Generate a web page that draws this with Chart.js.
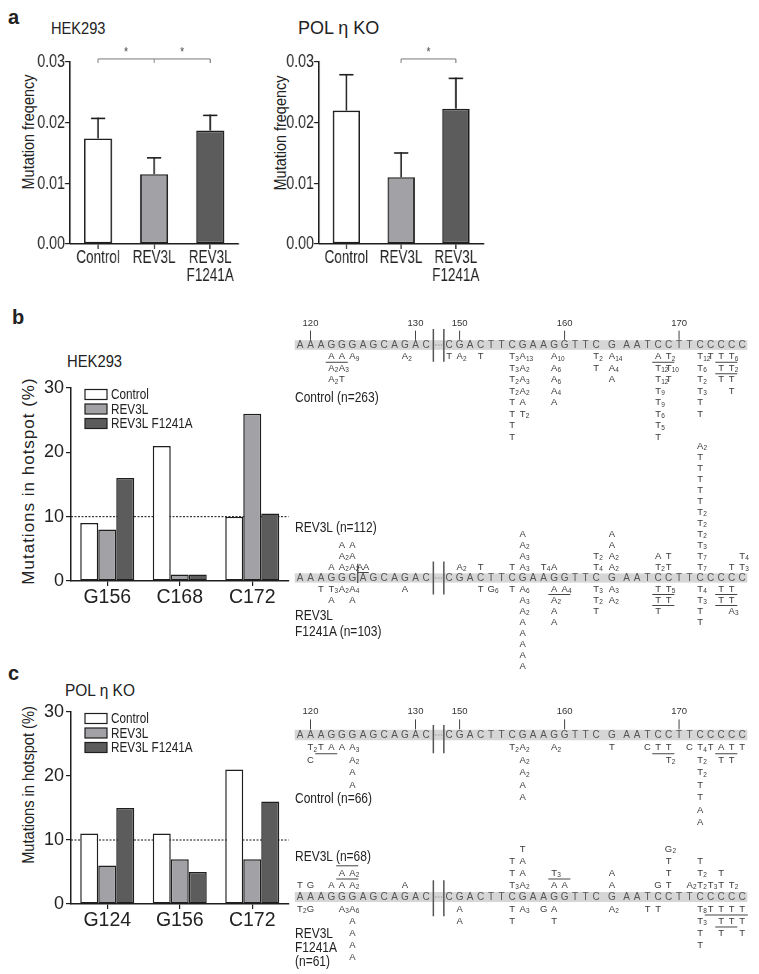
<!DOCTYPE html>
<html>
<head>
<meta charset="UTF-8">
<title>REV3L hotspot mutations</title>
<script src="https://cdn.jsdelivr.net/npm/chart.js"></script>
<style>
  body { margin: 0; background: #fff; }
  #fig { position: relative; width: 759px; height: 974px; overflow: hidden; background: #fff;
         font-family: 'Liberation Sans', Arial, sans-serif; color: #222; }
  #fig canvas { position: absolute; }
  /* panel a is drawn condensed, like the original figure */
  #fig canvas.squeeze { transform: scaleX(0.75); transform-origin: 0 0; }
  .t { position: absolute; white-space: nowrap; transform-origin: 0 50%; }
  .panel { font-weight: bold; font-size: 20px; line-height: 20px; }
  .title { font-size: 17px; line-height: 17px; }
  .ytitle { font-size: 17px; line-height: 17px; }
  .blk { font-size: 15px; line-height: 15px; transform: scaleX(0.8); }
</style>
</head>
<body>
<div id="fig">
  <div class="t panel" style="left:8px;top:7px">a</div>
  <div class="t title" style="left:51px;top:20px;transform:scaleX(0.86)">HEK293</div>
  <div class="t title" style="left:298px;top:20px;font-size:18px">POL η KO</div>
  <div class="t ytitle" style="left:28px;top:132px;transform:translate(-50%,-50%) rotate(-90deg) scaleX(0.85);transform-origin:50% 50%">Mutation freqency</div>
  <div class="t ytitle" style="left:280px;top:133px;transform:translate(-50%,-50%) rotate(-90deg) scaleX(0.85);transform-origin:50% 50%">Mutation freqency</div>
  <canvas id="freqHek" class="squeeze" width="327" height="245" style="left:0;top:40px"></canvas>
  <canvas id="freqPol" class="squeeze" width="327" height="245" style="left:249px;top:40px"></canvas>

  <div class="t panel" style="left:12px;top:307px">b</div>
  <div class="t title" style="left:67px;top:353px;transform:scaleX(0.87)">HEK293</div>
  <div class="t ytitle" style="left:28px;top:481px;letter-spacing:1px;transform:translate(-50%,-50%) rotate(-90deg);transform-origin:50% 50%">Mutations in hotspot (%)</div>
  <canvas id="hotHek" width="292" height="245" style="left:0;top:370px"></canvas>
  <canvas id="seqB1" width="479" height="160" style="left:280px;top:312px"></canvas>
  <canvas id="seqB2" width="479" height="240" style="left:280px;top:436px"></canvas>
  <div class="t blk" style="left:295px;top:389px">Control (n=263)</div>
  <div class="t blk" style="left:295px;top:519px">REV3L (n=112)</div>
  <div class="t blk" style="left:295px;top:607px">REV3L</div>
  <div class="t blk" style="left:295px;top:623px">F1241A (n=103)</div>

  <div class="t panel" style="left:8px;top:663px">c</div>
  <div class="t title" style="left:65px;top:682px;transform:scaleX(0.91)">POL η KO</div>
  <div class="t ytitle" style="left:28px;top:785px;transform:translate(-50%,-50%) rotate(-90deg) scaleX(0.86);transform-origin:50% 50%">Mutations in hotspot (%)</div>
  <canvas id="hotPol" width="292" height="250" style="left:0;top:690px"></canvas>
  <canvas id="seqC1" width="479" height="135" style="left:280px;top:700px"></canvas>
  <canvas id="seqC2" width="479" height="136" style="left:280px;top:838px"></canvas>
  <div class="t blk" style="left:295px;top:790px">Control (n=66)</div>
  <div class="t blk" style="left:295px;top:848px">REV3L (n=68)</div>
  <div class="t blk" style="left:295px;top:925px">REV3L</div>
  <div class="t blk" style="left:295px;top:939px">F1241A</div>
  <div class="t blk" style="left:295px;top:953px">(n=61)</div>
</div>

<script>
// ---- panel a: mutation frequency ----
const groupsA = ['Control', 'REV3L', ['REV3L', 'F1241A']];
const hekFreq = [0.0174, 0.0115, 0.0187];
const hekErr = [0.0033, 0.0027, 0.0025];
const polFreq = [0.0220, 0.0110, 0.0223];
const polErr = [0.0059, 0.0040, 0.0050];
const freqTicks = [0, 0.01, 0.02, 0.03];
// significance brackets: categories joined, star positions
const hekBracket = [0, 1, 2];
const hekStars = [0.5, 1.5];
const polBracket = [1, 2];
const polStars = [1.5];

// ---- panels b, c: mutations in hotspot (%) ----
const seriesNames = ['Control', 'REV3L', 'REV3L F1241A'];
const hotspotsHek = ['G156', 'C168', 'C172'];
const hekControl = [9, 21, 10];
const hekRev3l = [8, 1, 26];
const hekF1241a = [16, 1, 10.5];
const hotspotsPol = ['G124', 'G156', 'C172'];
const polControl = [11, 11, 21];
const polRev3l = [6, 7, 7];
const polF1241a = [15, 5, 16];
const hotspotThreshold = 10;

// ---- sequence maps ----
const seqLeft = 'AAAGGGAGCAGAC';            // 119-131
const seqLeftStart = 119;
const seqRight = 'CGACTTCGAAGGTTCGAATCCTTCCCCC'; // 149-176
const seqRightStart = 149;
const seqTicks = [120, 130, 150, 160, 170];

// [position, [mutations, nearest row first]]
const bControlMuts = [
  [122, ['A', 'A2', 'A2']], [123, ['A', 'A3', 'T']], [124, ['A9']], [129, ['A2']],
  [149, ['T']], [150, ['A2']], [152, ['T']],
  [155, ['T3', 'T3', 'T2', 'T2', 'T', 'T', 'T', 'T']],
  [156, ['A13', 'A2', 'A3', 'A2', 'A', 'T2']],
  [159, ['A10', 'A6', 'A6', 'A4', 'A']],
  [163, ['T2', 'T']], [164, ['A14', 'A4', 'A']],
  [168, ['A', 'T12', 'T12', 'T9', 'T9', 'T6', 'T5', 'T']],
  [169, ['T2', 'T10', 'T']],
  [172, ['T12', 'T6', 'T2', 'T3', 'T', 'T']],
  [173, ['T']], [174, ['T', 'T', 'T']], [175, ['T6', 'T2', 'T', 'T']]
];
const bControlLines = [[122, 123, 1.5], [168, 169, 1.5], [174, 175, 1.5], [174, 175, 2.5]];

const bRev3lMuts = [
  [122, ['A']], [123, ['A2', 'A2', 'A']], [124, ['A2', 'A', 'A']], [125, ['AA']],
  [150, ['A2']], [152, ['T']], [155, ['T']],
  [156, ['A3', 'A3', 'A2', 'A']],
  [158, ['T4']], [159, ['A']],
  [163, ['T4', 'T2']], [164, ['A2', 'A2', 'A', 'A']],
  [168, ['T2', 'A']], [169, ['T', 'T']],
  [172, ['T7', 'T7', 'T3', 'T2', 'T2', 'T2', 'T', 'T', 'T', 'T', 'T', 'A2']],
  [175, ['T']], [176, ['T3', 'T4']]
];
const bRev3lLines = [[125, 125, -0.5]];
const bRev3lBars = [[124.5, -1.3, 0.45]];

const bF1241aMuts = [
  [121, ['T']], [122, ['T3', 'A']], [123, ['A2']], [124, ['A4', 'A']], [129, ['A']],
  [152, ['T']], [153, ['G6']], [155, ['T']],
  [156, ['A6', 'A3', 'A2', 'A', 'A', 'A', 'A', 'A']],
  [159, ['A', 'A2', 'A', 'A']], [160, ['A4']],
  [163, ['T3', 'T2', 'T']], [164, ['A3', 'A2']],
  [168, ['T', 'T', 'T']], [169, ['T5', 'T']],
  [172, ['T4', 'T3', 'T', 'T']],
  [174, ['T', 'T']], [175, ['T', 'T', 'A3']]
];
const bF1241aLines = [[159, 160, 1.5], [168, 169, 1.5], [168, 169, 2.5], [174, 175, 1.5], [174, 175, 2.5]];

const cControlMuts = [
  [120, ['T2', 'C']], [121, ['T']], [122, ['A']], [123, ['A']], [124, ['A3', 'A2', 'A', 'A']],
  [155, ['T2']], [156, ['A2', 'A2', 'A2', 'A', 'A']],
  [159, ['A2']], [164, ['T']],
  [167, ['C']], [168, ['T']], [169, ['T', 'T2']],
  [171, ['C']], [172, ['T4', 'T2', 'T2', 'T', 'T', 'A', 'A']],
  [173, ['T']], [174, ['A', 'T']], [175, ['T', 'T']], [176, ['T']]
];
const cControlLines = [[121, 122, 1.5], [168, 169, 1.5], [174, 175, 1.5]];

const cRev3lMuts = [
  [119, ['T']], [120, ['G']], [122, ['A']], [123, ['A', 'A']], [124, ['A2', 'A2']], [129, ['A']],
  [155, ['T3', 'T', 'T']], [156, ['A2', 'A', 'A', 'T']],
  [159, ['A', 'T3']], [160, ['A']], [164, ['A', 'A']],
  [168, ['G']], [169, ['T', 'T', 'T', 'G2']],
  [171, ['A2']], [172, ['T2', 'T2', 'T']], [173, ['T3']], [174, ['T', 'T']], [175, ['T2']]
];
const cRev3lLines = [[123, 124, -1.5], [123, 124, -2.6], [159, 160, -1.5]];

const cF1241aMuts = [
  [119, ['T2']], [120, ['G']], [123, ['A3']], [124, ['A6', 'A', 'A', 'A', 'A']],
  [150, ['A', 'A']],
  [155, ['T', 'T']], [156, ['A3']], [158, ['G']], [159, ['A', 'T']],
  [164, ['A2']], [167, ['T']], [168, ['T']],
  [172, ['T8', 'T3', 'T', 'T']], [173, ['T']], [174, ['T', 'T', 'T']],
  [175, ['T', 'T']], [176, ['T', 'T', 'T']]
];
const cF1241aLines = [[173, 176, 1.5], [174, 175, 2.5]];

// ---------------------------------------------------------------
const sans = "'Liberation Sans', Arial, sans-serif";
const ink = '#1e1e1e';
const SQ = 0.75; // horizontal squeeze used for panel a canvases
Chart.defaults.font.family = sans;
Chart.defaults.color = '#222';

// error bars on top of each bar (vertical strokes widened to survive the squeeze)
const errorBars = {
  id: 'errorBars',
  afterDatasetsDraw(chart) {
    const ctx = chart.ctx, y = chart.scales.y;
    chart.data.datasets.forEach((ds, di) => {
      if (!ds.errors) return;
      chart.getDatasetMeta(di).data.forEach((bar, i) => {
        const top = y.getPixelForValue(ds.data[i] + ds.errors[i]);
        ctx.save();
        ctx.strokeStyle = ink;
        ctx.lineWidth = 1.6 / SQ;
        ctx.beginPath();
        ctx.moveTo(bar.x, bar.y);
        ctx.lineTo(bar.x, top - 0.8);
        ctx.stroke();
        ctx.lineWidth = 1.6;
        ctx.beginPath();
        ctx.moveTo(bar.x - 9.5, top);
        ctx.lineTo(bar.x + 9.5, top);
        ctx.stroke();
        ctx.restore();
      });
    });
  }
};

// significance bracket with stars
const bracket = {
  id: 'bracket',
  afterDraw(chart, args, o) {
    const ctx = chart.ctx, x = chart.scales.x, y = chart.scales.y;
    const yl = y.getPixelForValue(0.0305);
    const xs = o.cats.map(c => x.getPixelForValue(c));
    ctx.save();
    ctx.strokeStyle = '#777';
    ctx.lineWidth = 1;
    ctx.beginPath();
    ctx.moveTo(xs[0], yl);
    ctx.lineTo(xs[xs.length - 1], yl);
    ctx.stroke();
    ctx.lineWidth = 1.3;
    ctx.beginPath();
    xs.forEach(px => { ctx.moveTo(px, yl); ctx.lineTo(px, yl + 4); });
    ctx.stroke();
    ctx.fillStyle = '#444';
    ctx.font = '13px ' + sans;
    ctx.textAlign = 'center';
    ctx.textBaseline = 'middle';
    o.stars.forEach(s => ctx.fillText('*', x.getPixelForValue(s), yl - 7));
    ctx.restore();
  }
};

// dashed 10 % line behind the bars
const threshold = {
  id: 'threshold',
  beforeDatasetsDraw(chart, args, o) {
    const ctx = chart.ctx, a = chart.chartArea;
    const py = chart.scales.y.getPixelForValue(o.value);
    ctx.save();
    ctx.strokeStyle = '#111';
    ctx.lineWidth = 1;
    ctx.setLineDash([2, 1.5]);
    ctx.beginPath();
    ctx.moveTo(a.left, py);
    ctx.lineTo(a.right, py);
    ctx.stroke();
    ctx.restore();
  }
};

// legend boxes inside the plot area
const boxLegend = {
  id: 'boxLegend',
  afterDraw(chart) {
    const ctx = chart.ctx, a = chart.chartArea;
    ctx.save();
    ctx.font = '14.5px ' + sans;
    ctx.textBaseline = 'middle';
    chart.data.datasets.forEach((ds, i) => {
      const lx = a.left + 14, ly = a.top + 6.5 + i * 14.5;
      ctx.fillStyle = ds.backgroundColor;
      ctx.fillRect(lx, ly - 5, 22, 10);
      ctx.strokeStyle = ink;
      ctx.lineWidth = 1.2;
      ctx.strokeRect(lx, ly - 5, 22, 10);
      ctx.fillStyle = '#222';
      const w = ctx.measureText(ds.label).width;
      ctx.fillText(ds.label, lx + 26, ly + 0.5, w * 0.81);
    });
    ctx.restore();
  }
};

function axisGrid(len, width) {
  return { display: true, drawOnChartArea: false, offset: false, tickLength: len, color: ink, lineWidth: width || 1.2 };
}

function freqChart(id, values, errs, cats, stars, padRight) {
  return new Chart(document.getElementById(id), {
    type: 'bar',
    data: {
      labels: groupsA,
      datasets: [{
        data: values, errors: errs,
        backgroundColor: ['#ffffff', '#a2a2a6', '#5c5c5c'],
        borderColor: ink, borderSkipped: false,
        borderWidth: { top: 1.6, bottom: 1.6, left: 1.6 / SQ, right: 1.6 / SQ },
        barPercentage: 1, categoryPercentage: 0.5
      }]
    },
    options: {
      responsive: false, animation: false, events: [],
      layout: { padding: { top: 22, right: padRight / SQ, left: 0, bottom: 0 } },
      plugins: { legend: { display: false }, tooltip: { enabled: false }, bracket: { cats, stars } },
      scales: {
        x: {
          grid: axisGrid(5, 1.2 / SQ), border: { color: ink, width: 1.6 },
          ticks: { font: { size: 18, lineHeight: 1 }, padding: 0, maxRotation: 0, autoSkip: false },
          afterFit: s => { s.height = 41; s.paddingLeft = 0; s.paddingRight = 0; }
        },
        y: {
          min: 0, max: 0.03,
          afterBuildTicks: s => { s.ticks = freqTicks.map(v => ({ value: v })); },
          ticks: { callback: v => v.toFixed(2), font: { size: 19 }, padding: 0 },
          grid: axisGrid(5 / SQ), border: { color: ink, width: 1.6 / SQ },
          afterFit: s => { s.width = 70 / SQ; s.paddingTop = 0; s.paddingBottom = 0; }
        }
      }
    },
    plugins: [errorBars, bracket]
  });
}

function hotspotChart(id, labels, ctrl, rev, mut, padTop, xHeight) {
  const colors = ['#ffffff', '#a2a2a6', '#5c5c5c'];
  const sets = [ctrl, rev, mut].map((d, i) => ({
    label: seriesNames[i], data: d, backgroundColor: colors[i],
    borderColor: ink, borderWidth: 1.5, borderSkipped: false,
    barPercentage: 1, categoryPercentage: 0.745
  }));
  return new Chart(document.getElementById(id), {
    type: 'bar',
    data: { labels, datasets: sets },
    options: {
      responsive: false, animation: false, events: [],
      layout: { padding: { top: padTop, right: 3.5, left: 0, bottom: 0 } },
      plugins: { legend: { display: false }, tooltip: { enabled: false }, threshold: { value: hotspotThreshold } },
      scales: {
        x: {
          grid: axisGrid(5), border: { color: ink, width: 1.5 },
          ticks: { font: { size: 19.5 }, padding: 0, maxRotation: 0, autoSkip: false },
          afterFit: s => { s.height = xHeight; s.paddingLeft = 0; s.paddingRight = 0; }
        },
        y: {
          min: 0, max: 30,
          ticks: { stepSize: 10, font: { size: 18 }, padding: 2 },
          grid: axisGrid(5), border: { color: ink, width: 1.5 },
          afterFit: s => { s.width = 71; s.paddingTop = 0; s.paddingBottom = 0; }
        }
      }
    },
    plugins: [threshold, boxLegend]
  });
}

// ---- sequence maps drawn on linear scales (x: column, y: row) ----
function colOf(p) {
  if (p < 140) return p - seqLeftStart;
  let c = 14.2 + (p - seqRightStart);
  if (p >= 163.5) c += 0.5;
  if (p >= 164.5) c += 0.4;
  return c;
}

function drawMut(ctx, x, y, txt) {
  const m = txt.match(/^([A-Z]+)(\d*)$/);
  ctx.font = '9.5px ' + sans;
  const w = ctx.measureText(m[1]).width;
  ctx.textAlign = 'left';
  ctx.fillText(m[1], x - w / 2, y);
  if (m[2]) {
    ctx.font = '6.5px ' + sans;
    ctx.fillText(m[2], x + w / 2 + 0.2, y + 2.5);
  }
}

const seqMap = {
  id: 'seqMap',
  afterDraw(chart, args, o) {
    const ctx = chart.ctx, sx = chart.scales.x, sy = chart.scales.y;
    const X = p => sx.getPixelForValue(colOf(p));
    const C = c => sx.getPixelForValue(c);
    const Y = r => sy.getPixelForValue(r);
    ctx.save();
    // grey band
    ctx.fillStyle = '#d6d6d6';
    ctx.fillRect(C(-0.5), Y(-0.42), C(42.6) - C(-0.5), Y(0.42) - Y(-0.42));
    // break between the two stretches
    ctx.strokeStyle = '#555';
    ctx.lineWidth = 1.5;
    ctx.beginPath();
    [12.7, 13.7].forEach(c => { ctx.moveTo(C(c), Y(o.breakRows[0])); ctx.lineTo(C(c), Y(o.breakRows[1])); });
    ctx.stroke();
    ctx.strokeStyle = '#999';
    ctx.lineWidth = 1;
    ctx.setLineDash([1.5, 1.5]);
    ctx.beginPath();
    ctx.moveTo(C(12.85), Y(0));
    ctx.lineTo(C(13.55), Y(0));
    ctx.stroke();
    ctx.setLineDash([]);
    // bases
    ctx.fillStyle = '#555';
    ctx.font = '10px ' + sans;
    ctx.textAlign = 'center';
    ctx.textBaseline = 'middle';
    seqLeft.split('').forEach((b, i) => ctx.fillText(b, X(seqLeftStart + i), Y(0) + 0.5));
    seqRight.split('').forEach((b, i) => ctx.fillText(b, X(seqRightStart + i), Y(0) + 0.5));
    // position numbers
    if (o.numbers) {
      ctx.fillStyle = '#333';
      ctx.font = '9.5px ' + sans;
      ctx.strokeStyle = '#444';
      ctx.lineWidth = 1;
      seqTicks.forEach(p => {
        ctx.fillText(String(p), X(p), Y(-1.9));
        ctx.beginPath();
        ctx.moveTo(X(p), Y(-1.25));
        ctx.lineTo(X(p), Y(-0.45));
        ctx.stroke();
      });
    }
    // mutations
    ctx.fillStyle = '#3a3a3a';
    ctx.textBaseline = 'middle';
    o.groups.forEach(g => {
      g.muts.forEach(([p, list]) => list.forEach((t, k) => drawMut(ctx, X(p), Y(g.dir * (k + 1)), t)));
      ctx.strokeStyle = '#444';
      ctx.lineWidth = 1;
      g.lines.forEach(([p1, p2, r]) => {
        ctx.beginPath();
        ctx.moveTo(C(colOf(p1) - 0.55), Y(r));
        ctx.lineTo(C(colOf(p2) + 0.55), Y(r));
        ctx.stroke();
      });
    });
    (o.bars || []).forEach(([p, r1, r2]) => {
      ctx.strokeStyle = '#444';
      ctx.lineWidth = 1.2;
      ctx.beginPath();
      ctx.moveTo(X(p), Y(r1));
      ctx.lineTo(X(p), Y(r2));
      ctx.stroke();
    });
    ctx.restore();
  }
};

function seqChart(id, yMin, yMax, cfg) {
  return new Chart(document.getElementById(id), {
    type: 'scatter',
    data: { datasets: [] },
    options: {
      responsive: false, animation: false, events: [],
      layout: { padding: 0 },
      plugins: { legend: { display: false }, tooltip: { enabled: false }, seqMap: cfg },
      scales: {
        x: { type: 'linear', display: false, min: -1.905, max: 43.714 },
        y: { type: 'linear', display: false, min: yMin, max: yMax, reverse: true }
      }
    },
    plugins: [seqMap]
  });
}

freqChart('freqHek', hekFreq, hekErr, hekBracket, hekStars, 7);
freqChart('freqPol', polFreq, polErr, polBracket, polStars, 11);
hotspotChart('hotHek', hotspotsHek, hekControl, hekRev3l, hekF1241a, 18, 34);
hotspotChart('hotPol', hotspotsPol, polControl, polRev3l, polF1241a, 22, 36);

// row pitch: b1 11.5 px, b2 11 px, c1 12.5 px, c2 12 px
seqChart('seqB1', -2.87, 11.04, {
  numbers: true, breakRows: [-1.4, 1.45],
  groups: [{ dir: 1, muts: bControlMuts, lines: bControlLines }]
});
seqChart('seqB2', -12.909, 8.909, {
  numbers: false, breakRows: [-1.5, 1.5], bars: bRev3lBars,
  groups: [
    { dir: -1, muts: bRev3lMuts, lines: bRev3lLines },
    { dir: 1, muts: bF1241aMuts, lines: bF1241aLines }
  ]
});
seqChart('seqC1', -2.8, 8.0, {
  numbers: true, breakRows: [-0.8, 1.45],
  groups: [{ dir: 1, muts: cControlMuts, lines: cControlLines }]
});
seqChart('seqC2', -4.917, 6.417, {
  numbers: false, breakRows: [-1.4, 1.6],
  groups: [
    { dir: -1, muts: cRev3lMuts, lines: cRev3lLines },
    { dir: 1, muts: cF1241aMuts, lines: cF1241aLines }
  ]
});
</script>
</body>
</html>
